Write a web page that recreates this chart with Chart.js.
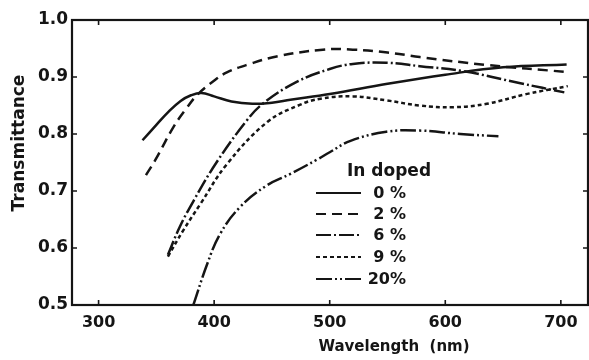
<!DOCTYPE html>
<html>
<head>
<meta charset="utf-8">
<script src="https://cdn.jsdelivr.net/npm/chart.js@4/dist/chart.umd.min.js"></script>
<style>
  html, body { margin: 0; padding: 0; background: #fff; }
  #wrap { width: 589px; height: 360px; position: relative; }
</style>
</head>
<body>
<div id="wrap"><canvas id="c" width="589" height="360"></canvas></div>
<script>
// Transmittance spectra of In-doped films
const xTicks = [300, 400, 500, 600, 700];
const yTicks = [0.5, 0.6, 0.7, 0.8, 0.9, 1.0];
const xTitle = 'Wavelength  (nm)';
const yTitle = 'Transmittance';

const wave0  = [338, 350, 360, 371, 380, 389, 400, 415, 433, 450, 466, 500, 550, 600, 650, 705];
const trans0 = [0.789, 0.816, 0.838, 0.858, 0.868, 0.872, 0.866, 0.857, 0.853, 0.855, 0.860, 0.870, 0.888, 0.904, 0.917, 0.922];

const wave2  = [341, 349, 365, 376, 386, 399, 411, 431, 454, 494, 520, 550, 578, 636, 704];
const trans2 = [0.728, 0.754, 0.813, 0.845, 0.870, 0.892, 0.908, 0.923, 0.936, 0.948, 0.948, 0.943, 0.935, 0.921, 0.909];

const wave6  = [360, 370, 382, 402, 428, 442, 471, 500, 520, 549, 578, 616, 665, 703];
const trans6 = [0.588, 0.636, 0.682, 0.750, 0.823, 0.853, 0.891, 0.914, 0.923, 0.925, 0.919, 0.910, 0.889, 0.873];

const wave9  = [360, 373, 388, 411, 446, 474, 492, 520, 549, 578, 607, 636, 670, 706];
const trans9 = [0.585, 0.630, 0.677, 0.747, 0.821, 0.851, 0.862, 0.866, 0.859, 0.850, 0.847, 0.853, 0.870, 0.884];

const wave20  = [382, 394, 405, 422, 445, 466, 489, 500, 518, 549, 578, 613, 646];
const trans20 = [0.500, 0.572, 0.624, 0.671, 0.709, 0.730, 0.755, 0.768, 0.788, 0.804, 0.806, 0.800, 0.796];

const seriesLabels = ['0 %', '2 %', '6 %', '9 %', '20%'];
const legendTitle = 'In doped';

const INK = '#151515';
const dashes = [
  [],
  [10, 6],
  [15, 3, 2, 3],
  [4, 3],
  [16, 3, 2, 3, 2, 3]
];

const pairs = (xs, ys) => xs.map((x, i) => ({ x: x, y: ys[i] }));
const allSeries = [
  pairs(wave0, trans0),
  pairs(wave2, trans2),
  pairs(wave6, trans6),
  pairs(wave9, trans9),
  pairs(wave20, trans20)
];

const datasets = allSeries.map((d, i) => ({
  label: seriesLabels[i],
  data: d,
  borderColor: INK,
  borderWidth: 2.5,
  borderDash: dashes[i],
  pointRadius: 0,
  fill: false,
  tension: 0.4
}));

// Frame, inward tick marks on all four sides, axis titles and the in-plot legend
const framePlugin = {
  id: 'frame',
  afterDraw(chart) {
    const ctx = chart.ctx;
    const a = chart.chartArea;
    const xs = chart.scales.x, ys = chart.scales.y;
    ctx.save();
    ctx.strokeStyle = INK;
    ctx.lineWidth = 2.2;
    ctx.setLineDash([]);
    ctx.strokeRect(a.left, a.top, a.right - a.left, a.bottom - a.top);
    ctx.lineWidth = 1.6;
    const t = 5;
    xTicks.forEach(v => {
      const p = xs.getPixelForValue(v);
      ctx.beginPath();
      ctx.moveTo(p, a.bottom); ctx.lineTo(p, a.bottom - t);
      ctx.moveTo(p, a.top); ctx.lineTo(p, a.top + t);
      ctx.stroke();
    });
    yTicks.forEach(v => {
      const p = ys.getPixelForValue(v);
      ctx.beginPath();
      ctx.moveTo(a.left, p); ctx.lineTo(a.left + t, p);
      ctx.moveTo(a.right, p); ctx.lineTo(a.right - t, p);
      ctx.stroke();
    });

    // axis titles
    ctx.fillStyle = INK;
    ctx.textBaseline = 'middle';
    ctx.textAlign = 'center';
    ctx.font = 'bold 15px "DejaVu Sans"';
    ctx.fillText(xTitle, 394, 347);
    ctx.save();
    ctx.translate(20, 143);
    ctx.rotate(-Math.PI / 2);
    ctx.font = 'bold 17px "DejaVu Sans"';
    ctx.fillText(yTitle, 0, 0);
    ctx.restore();

    // legend
    ctx.font = 'bold 17px "DejaVu Sans"';
    ctx.textAlign = 'left';
    ctx.fillText(legendTitle, 347, 172);
    const rowsY = [193, 214, 235, 257, 279];
    ctx.font = 'bold 16px "DejaVu Sans"';
    rowsY.forEach((y, i) => {
      ctx.setLineDash(dashes[i]);
      ctx.lineWidth = 2.2;
      ctx.beginPath();
      ctx.moveTo(316, y); ctx.lineTo(361, y);
      ctx.stroke();
      ctx.setLineDash([]);
      ctx.textAlign = 'right';
      ctx.fillText(seriesLabels[i], 406, y + 1);
    });
    ctx.restore();
  }
};

new Chart(document.getElementById('c'), {
  type: 'line',
  data: { datasets: datasets },
  options: {
    responsive: false,
    animation: false,
    layout: { padding: { top: 20, right: 1, left: 0, bottom: 0 } },
    plugins: { legend: { display: false }, tooltip: { enabled: false } },
    scales: {
      x: {
        type: 'linear',
        min: 277,
        max: 723.5,
        afterBuildTicks: s => { s.ticks = xTicks.map(v => ({ value: v })); },
        afterFit: s => { s.height = 55; },
        grid: { display: false, drawTicks: false },
        border: { display: false },
        ticks: {
          color: INK,
          padding: 8,
          maxRotation: 0,
          font: { family: 'DejaVu Sans', size: 16, weight: 'bold' },
          callback: v => String(v)
        }
      },
      y: {
        type: 'linear',
        min: 0.5,
        max: 1.0,
        afterBuildTicks: s => { s.ticks = yTicks.map(v => ({ value: v })); },
        afterFit: s => { s.width = 72; },
        grid: { display: false, drawTicks: false },
        border: { display: false },
        ticks: {
          color: INK,
          padding: 4,
          font: { family: 'DejaVu Sans', size: 17, weight: 'bold' },
          callback: v => Number(v).toFixed(1)
        }
      }
    }
  },
  plugins: [framePlugin]
});
</script>
</body>
</html>
